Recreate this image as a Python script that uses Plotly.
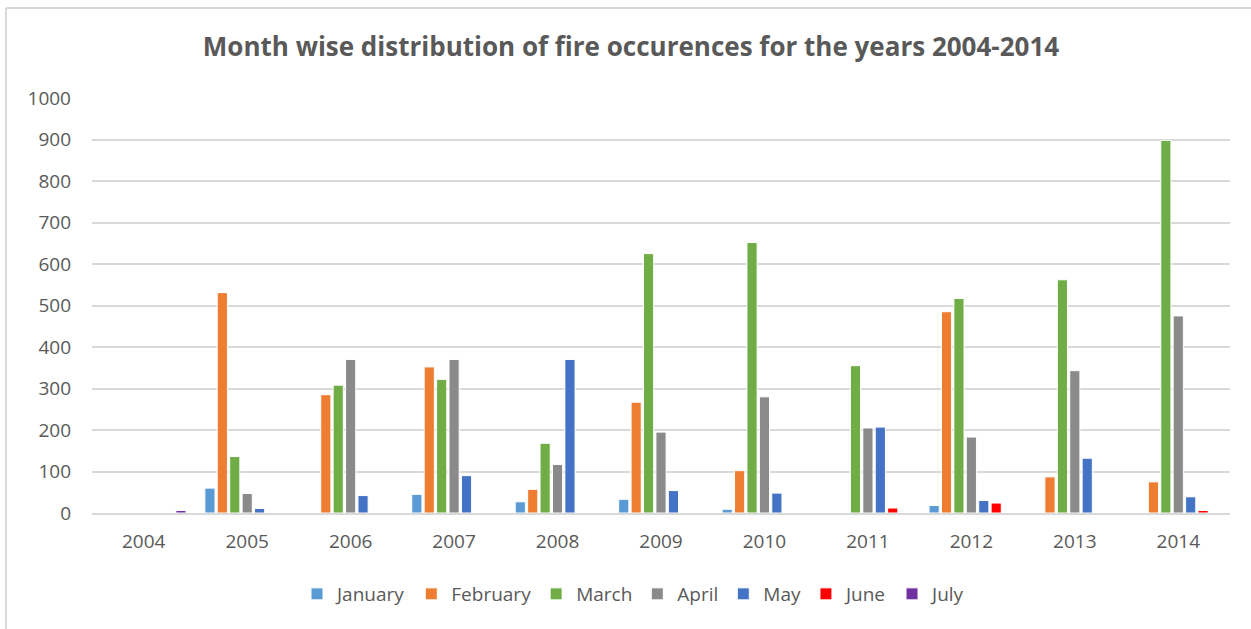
import plotly.graph_objects as go

years = ["2004", "2005", "2006", "2007", "2008", "2009", "2010", "2011", "2012", "2013", "2014"]
months = ["January", "February", "March", "April", "May", "June", "July"]

january = [0, 60, 0, 45, 27, 33, 9, 0, 18, 0, 0]
february = [0, 531, 285, 352, 57, 267, 102, 0, 485, 87, 75]
march = [0, 136, 308, 322, 168, 625, 652, 355, 517, 562, 898]
april = [0, 47, 370, 370, 117, 195, 280, 205, 183, 343, 475]
may = [0, 11, 42, 90, 370, 54, 48, 207, 30, 132, 39]
june = [0, 0, 0, 0, 0, 0, 0, 12, 24, 0, 6]
july = [6, 0, 0, 0, 0, 0, 0, 0, 0, 0, 0]

series = [january, february, march, april, may, june, july]
colors = ["#5B9BD5", "#ED7D31", "#70AD47", "#8A8A8A", "#4472C4", "#FF0000", "#7030A0"]

FONT = "Open Sans, Liberation Sans, sans-serif"
TEXT = "#595959"

W, H = 1251, 629
L, R, T, B = 92, 21, 98, 116
pw, ph = W - L - R, H - T - B


def px_x(x):
    return (x - L) / pw


def px_y(y):
    return (H - B - y) / ph


fig = go.Figure()
for name, vals, col in zip(months, series, colors):
    fig.add_trace(
        go.Bar(
            x=years,
            y=vals,
            name=name,
            marker=dict(color=col, line=dict(color="white", width=1)),
        )
    )

fig.update_layout(
    width=W,
    height=H,
    margin=dict(l=L, r=R, t=T, b=B),
    paper_bgcolor="white",
    plot_bgcolor="white",
    barmode="group",
    bargap=0.16,
    bargroupgap=0.18,
    font=dict(family=FONT, color=TEXT, size=19),
    title=dict(
        text="<b>Month wise distribution of fire occurences for the years 2004-2014</b>",
        x=631 / W,
        xanchor="center",
        y=1 - 47 / H,
        yanchor="middle",
        yref="container",
        font=dict(family=FONT, size=26, color=TEXT),
    ),
    legend=dict(
        orientation="h",
        x=px_x(634),
        xanchor="center",
        y=px_y(594),
        yanchor="middle",
        font=dict(size=19, color=TEXT),
        itemwidth=30,
    ),
    showlegend=True,
)

fig.update_xaxes(
    showgrid=False,
    showline=True,
    linecolor="#D9D9D9",
    linewidth=1.5,
    ticks="",
    ticklabelstandoff=10,
    tickfont=dict(size=19, color=TEXT),
)
fig.update_yaxes(
    range=[0, 1000],
    dtick=100,
    showgrid=True,
    gridcolor="#D9D9D9",
    gridwidth=1.5,
    zeroline=False,
    showline=False,
    ticks="",
    ticklabelstandoff=20,
    tickfont=dict(size=19, color=TEXT),
)

# chart frame (left and top edges visible in the reference)
fig.add_shape(type="line", xref="paper", yref="paper",
              x0=px_x(6), x1=px_x(W + 5), y0=px_y(8), y1=px_y(8),
              line=dict(color="#D9D9D9", width=2))
fig.add_shape(type="line", xref="paper", yref="paper",
              x0=px_x(6), x1=px_x(6), y0=px_y(8), y1=px_y(H + 5),
              line=dict(color="#D9D9D9", width=2))

fig.write_html(
    "out.html",
    config={"displayModeBar": False},
    post_script="document.body.style.margin='0';",
)
